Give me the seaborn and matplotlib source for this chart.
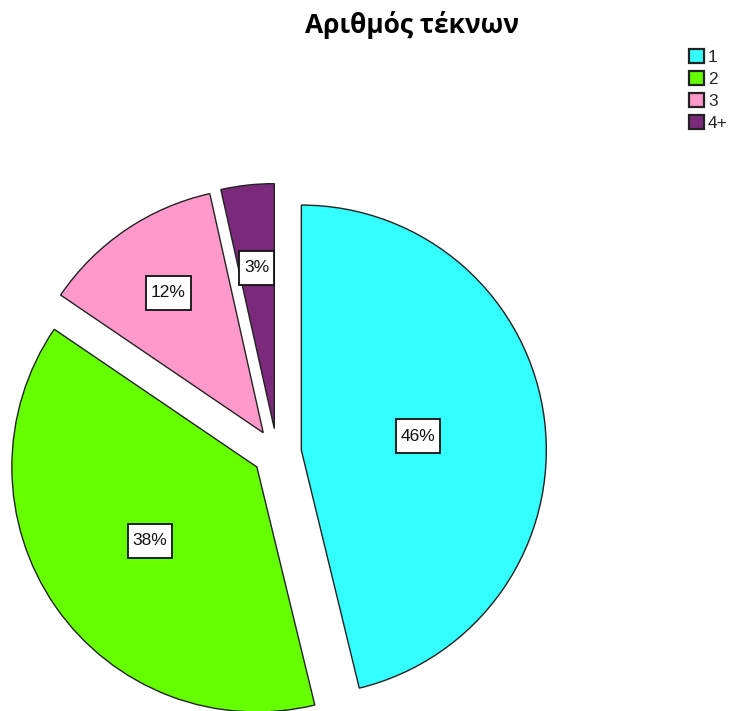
import numpy as np
import matplotlib
matplotlib.use("Agg")
import matplotlib.pyplot as plt
from matplotlib.path import Path
import seaborn as sns

categories = ["1", "2", "3", "4+"]
values = [46.2, 38.3, 12.0, 3.5]
pct_labels = ["46%", "38%", "12%", "3%"]
colors = ["#33FFFF", "#66FF00", "#FF99CC", "#7B2A7B"]
title = "Αριθμός τέκνων"

sns.set_theme(style="white")
plt.rcParams["font.family"] = ["Liberation Sans", "DejaVu Sans"]


def label_box(x0, y0, width, height, mutation_size):
    px = 0.28 * mutation_size
    py = 0.55 * mutation_size
    x1, y1 = x0 - px, y0 - py
    x2, y2 = x0 + width + px, y0 + height + py
    return Path([(x1, y1), (x2, y1), (x2, y2), (x1, y2), (x1, y1)],
                [Path.MOVETO, Path.LINETO, Path.LINETO, Path.LINETO, Path.CLOSEPOLY])


W, H = 739, 711
fig = plt.figure(figsize=(W / 100, H / 100), dpi=100)
R = 245.0
cx, cy = 277.0, 453.0
half = 1.2 * R
ax = fig.add_axes([(cx - half) / W, (H - cy - half) / H, 2 * half / W, 2 * half / H])
ax.set_xlim(-1.2, 1.2)
ax.set_ylim(-1.2, 1.2)
ax.set_aspect("equal")
ax.axis("off")

wedges, _ = ax.pie(values, colors=colors, startangle=90, counterclock=False,
                   explode=[0.1] * len(values), radius=1,
                   wedgeprops=dict(edgecolor="#222222", linewidth=1.0))
ax.set_xlim(-1.2, 1.2)
ax.set_ylim(-1.2, 1.2)

label_dist = [0.48, 0.53, 0.69, 0.66]
for w, lab, d in zip(wedges, pct_labels, label_dist):
    ang = np.deg2rad((w.theta1 + w.theta2) / 2)
    x = w.center[0] + d * np.cos(ang)
    y = w.center[1] + d * np.sin(ang)
    ax.text(x, y, lab, ha="center", va="center", fontsize=12.5, color="#111111",
            bbox=dict(boxstyle=label_box, facecolor="white",
                      edgecolor="#111111", linewidth=1.3))

fig.text(412 / W, 1 - 25 / H, title, ha="center", va="center",
         fontsize=19, fontweight="bold", color="black",
         family=["Open Sans", "DejaVu Sans"])

leg = fig.legend(wedges, categories, loc="upper left",
                 bbox_to_anchor=(689 / W, 1 - 49 / H), frameon=False,
                 handlelength=0.85, handleheight=0.85, handletextpad=0.25,
                 labelspacing=0.35, fontsize=12.5, borderaxespad=0, borderpad=0)
for p in leg.get_patches():
    p.set_linewidth(1.6)
    p.set_edgecolor("#222222")

fig.savefig("out.png", dpi=100, facecolor="white")
